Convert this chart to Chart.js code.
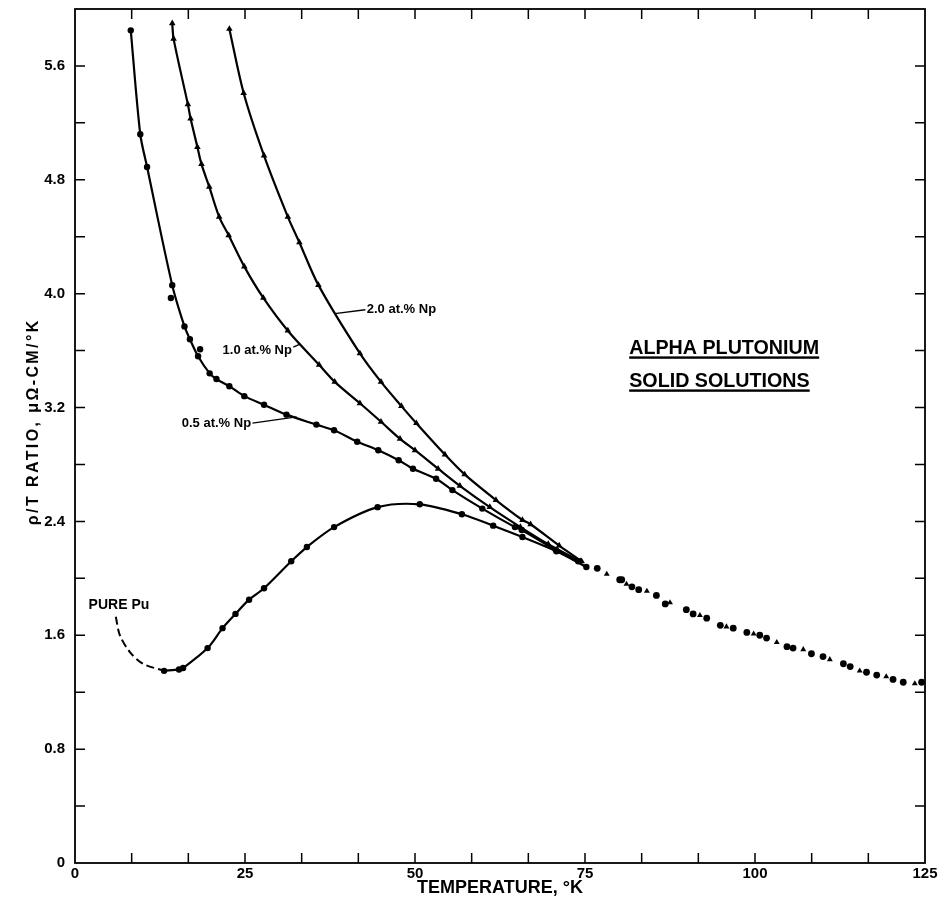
<!DOCTYPE html>
<html><head><meta charset="utf-8">
<script src="https://cdn.jsdelivr.net/npm/chart.js@4/dist/chart.umd.min.js"></script>
<style>html,body{margin:0;padding:0;background:#fff}</style>
</head><body>
<canvas id="c" width="939" height="902"></canvas>
<script>
// ---- tick values & labels ----
const xTickValues = [0, 8.333, 16.667, 25, 33.333, 41.667, 50, 58.333, 66.667, 75, 83.333, 91.667, 100, 108.333, 116.667, 125];
const xTickLabels = ['0', '', '', '25', '', '', '50', '', '', '75', '', '', '100', '', '', '125'];
const yTickValues = [0, 0.4, 0.8, 1.2, 1.6, 2.0, 2.4, 2.8, 3.2, 3.6, 4.0, 4.4, 4.8, 5.2, 5.6, 6.0];
const yTickLabels = ['0', '', '0.8', '', '1.6', '', '2.4', '', '3.2', '', '4.0', '', '4.8', '', '5.6', ''];

// ---- series: temperature (K) and rho/T ratio ----
const tNp05 = [8.2, 9.6, 10.6, 14.3, 16.1, 16.9, 18.1, 19.8, 20.8, 22.7, 24.9, 27.8, 31.1, 35.5, 38.1, 41.5, 44.6, 47.6, 49.7, 53.1, 55.5, 59.9, 64.7, 65.7, 70.7, 74.0];
const rNp05 = [5.85, 5.12, 4.89, 4.06, 3.77, 3.68, 3.56, 3.44, 3.40, 3.35, 3.28, 3.22, 3.15, 3.08, 3.04, 2.96, 2.90, 2.83, 2.77, 2.70, 2.62, 2.49, 2.36, 2.34, 2.20, 2.12];
const tNp05Stray = [14.1, 18.4];
const rNp05Stray = [3.97, 3.61];

const tNp10 = [14.3, 14.5, 16.6, 17.0, 18.0, 18.6, 19.75, 21.2, 22.6, 24.9, 27.7, 31.3, 35.9, 38.2, 41.9, 45.0, 47.8, 50.0, 53.4, 56.6, 61.0, 65.5, 69.6, 74.3];
const rNp10 = [5.90, 5.79, 5.33, 5.23, 5.03, 4.91, 4.75, 4.54, 4.41, 4.19, 3.97, 3.74, 3.50, 3.38, 3.23, 3.10, 2.98, 2.90, 2.77, 2.65, 2.50, 2.36, 2.24, 2.12];

const tNp20 = [22.7, 24.8, 27.8, 31.3, 33.0, 35.8, 41.9, 45.0, 48.0, 50.2, 54.4, 57.3, 61.9, 65.8, 67.0, 71.2, 74.5];
const rNp20 = [5.86, 5.41, 4.97, 4.54, 4.36, 4.06, 3.58, 3.38, 3.21, 3.09, 2.87, 2.73, 2.55, 2.41, 2.38, 2.23, 2.12];

const tPureDashed = [6.0, 6.6, 8.1, 10.0, 13.1];
const rPureDashed = [1.73, 1.60, 1.48, 1.40, 1.35];
const tPure = [13.1, 15.3, 15.9, 19.5, 21.7, 23.6, 25.6, 27.8, 31.8, 34.1, 38.1, 44.5, 50.7, 56.9, 61.5, 65.8, 70.8, 75.2];
const rPure = [1.35, 1.36, 1.37, 1.51, 1.65, 1.75, 1.85, 1.93, 2.12, 2.22, 2.36, 2.50, 2.52, 2.45, 2.37, 2.29, 2.19, 2.08];

const tHigh = [76.8, 78.2, 80.1, 80.4, 81.1, 81.9, 82.9, 84.1, 85.5, 86.8, 87.5, 89.9, 90.9, 91.9, 92.9, 94.9, 95.8, 96.8, 98.8, 99.8, 100.7, 101.7, 103.2, 104.7, 105.6, 107.1, 108.3, 110.0, 111.0, 113.0, 114.0, 115.4, 116.4, 117.9, 119.3, 120.3, 121.8, 123.5, 124.5];
const rHigh = [2.07, 2.03, 1.99, 1.99, 1.96, 1.94, 1.92, 1.91, 1.88, 1.82, 1.83, 1.78, 1.75, 1.74, 1.72, 1.67, 1.66, 1.65, 1.62, 1.61, 1.60, 1.58, 1.55, 1.52, 1.51, 1.50, 1.47, 1.45, 1.43, 1.40, 1.38, 1.35, 1.34, 1.32, 1.31, 1.29, 1.27, 1.26, 1.27];

const seriesLabels = ['0.5 at.% Np', '1.0 at.% Np', '2.0 at.% Np', 'PURE Pu'];
const chartTitle = ['ALPHA PLUTONIUM', 'SOLID SOLUTIONS'];
const xTitle = 'TEMPERATURE, °K';
const yTitle = 'ρ/T RATIO, μΩ-CM/°K';

const pts = (xs, ys) => xs.map((x, i) => ({x: x, y: ys[i]}));
const FONT = '"Liberation Sans", Arial, sans-serif';

function curve(label, xs, ys, style, extra) {
  return Object.assign({
    label: label, data: pts(xs, ys), showLine: true,
    borderColor: '#000', backgroundColor: '#000', borderWidth: 2.2,
    pointRadius: style === 'triangle' ? 3.8 : 3.2, pointStyle: style,
    pointBorderWidth: 0, tension: 0.3
  }, extra || {});
}

// Annotation placement (data coordinates) – layout only
const notes = [
  {text: seriesLabels[2], tx: 42.9, ty: 3.887, align: 'left', from: [42.7, 3.887], to: [38.2, 3.86]},
  {text: seriesLabels[1], tx: 31.9, ty: 3.60, align: 'right', from: [32.1, 3.625], to: [33.1, 3.645]},
  {text: seriesLabels[0], tx: 25.9, ty: 3.085, align: 'right', from: [26.1, 3.09], to: [32.6, 3.134]},
  {text: seriesLabels[3], tx: 2.0, ty: 1.81, align: 'left'}
];

const framePlugin = {
  id: 'frame',
  afterDraw(chart) {
    const {ctx, chartArea: a, scales: {x, y}} = chart;
    ctx.save();
    ctx.strokeStyle = '#000';
    ctx.lineWidth = 1.8;
    ctx.strokeRect(a.left, a.top, a.right - a.left, a.bottom - a.top);
    ctx.lineWidth = 1.5;
    const L = 10;
    ctx.beginPath();
    xTickValues.forEach(v => {
      if (v <= x.min || v >= x.max) return;
      const px = x.getPixelForValue(v);
      ctx.moveTo(px, a.bottom); ctx.lineTo(px, a.bottom - L);
      ctx.moveTo(px, a.top); ctx.lineTo(px, a.top + L);
    });
    yTickValues.forEach(v => {
      if (v <= y.min || v >= y.max) return;
      const py = y.getPixelForValue(v);
      ctx.moveTo(a.left, py); ctx.lineTo(a.left + L, py);
      ctx.moveTo(a.right, py); ctx.lineTo(a.right - L, py);
    });
    ctx.stroke();

    // y-axis title (rotated, spaced lettering)
    ctx.fillStyle = '#000';
    ctx.save();
    ctx.translate(34, y.getPixelForValue(3.10));
    ctx.rotate(-Math.PI / 2);
    ctx.font = 'bold 16px ' + FONT;
    ctx.letterSpacing = '2.4px';
    ctx.textAlign = 'center';
    ctx.textBaseline = 'middle';
    ctx.fillText(yTitle, 0, 0);
    ctx.restore();

    // annotations
    ctx.textBaseline = 'middle';
    ctx.lineWidth = 1.3;
    notes.forEach(n => {
      ctx.font = (n.text === 'PURE Pu' ? 'bold 14px ' : 'bold 13px ') + FONT;
      ctx.textAlign = n.align;
      ctx.fillText(n.text, x.getPixelForValue(n.tx), y.getPixelForValue(n.ty));
      if (n.from) {
        ctx.beginPath();
        ctx.moveTo(x.getPixelForValue(n.from[0]), y.getPixelForValue(n.from[1]));
        ctx.lineTo(x.getPixelForValue(n.to[0]), y.getPixelForValue(n.to[1]));
        ctx.stroke();
      }
    });

    // underlined title text
    ctx.font = 'bold 19.7px ' + FONT;
    ctx.textAlign = 'left';
    ctx.textBaseline = 'alphabetic';
    const tx = x.getPixelForValue(81.5);
    [[chartTitle[0], 3.577], [chartTitle[1], 3.345]].forEach(([t, v]) => {
      const py = y.getPixelForValue(v);
      ctx.fillText(t, tx, py);
      const w = ctx.measureText(t).width;
      ctx.fillRect(tx, py + 2.5, w, 2.4);
    });
    ctx.restore();
  }
};

new Chart(document.getElementById('c'), {
  type: 'scatter',
  data: {
    datasets: [
      curve(seriesLabels[0], tNp05, rNp05, 'circle'),
      {label: 'stray', data: pts(tNp05Stray, rNp05Stray), backgroundColor: '#000', borderColor: '#000', pointRadius: 3.2, pointBorderWidth: 0},
      curve(seriesLabels[1], tNp10, rNp10, 'triangle'),
      curve(seriesLabels[2], tNp20, rNp20, 'triangle'),
      curve(seriesLabels[3] + ' (extrap.)', tPureDashed, rPureDashed, 'circle', {pointRadius: 0, borderDash: [8, 4], borderWidth: 2}),
      curve(seriesLabels[3], tPure, rPure, 'circle'),
      {label: 'high T', data: pts(tHigh, rHigh), backgroundColor: '#000', borderColor: '#000', pointRadius: 3.4, pointBorderWidth: 0,
       pointStyle: tHigh.map((_, i) => (i % 3 === 1 ? 'triangle' : 'circle'))}
    ]
  },
  options: {
    responsive: false, animation: false, devicePixelRatio: 1,
    layout: {padding: {left: 0, right: 14, top: 9, bottom: 0}},
    plugins: {legend: {display: false}, tooltip: {enabled: false}},
    scales: {
      x: {
        type: 'linear', min: 0, max: 125,
        afterBuildTicks: s => { s.ticks = xTickValues.map(v => ({value: v})); },
        afterFit: s => { s.height = 39; s.paddingLeft = 0; s.paddingRight = 0; },
        grid: {display: false, drawTicks: false},
        border: {display: false},
        ticks: {autoSkip: false, maxRotation: 0, padding: 2, color: '#000',
          font: {family: FONT, weight: 'bold', size: 15},
          callback: (v, i) => xTickLabels[i]},
        title: {display: true, text: xTitle, color: '#000',
          font: {family: FONT, weight: 'bold', size: 18}, padding: {top: 0, bottom: 3}}
      },
      y: {
        type: 'linear', min: 0, max: 6.0,
        afterBuildTicks: s => { s.ticks = yTickValues.map(v => ({value: v})); },
        afterFit: s => { s.width = 75; s.paddingTop = 0; s.paddingBottom = 0; },
        grid: {display: false, drawTicks: false},
        border: {display: false},
        ticks: {autoSkip: false, padding: 10, color: '#000',
          font: {family: FONT, weight: 'bold', size: 15},
          callback: (v, i) => yTickLabels[i]},
        title: {display: false, text: yTitle}
      }
    }
  },
  plugins: [framePlugin]
});
</script>
</body></html>
